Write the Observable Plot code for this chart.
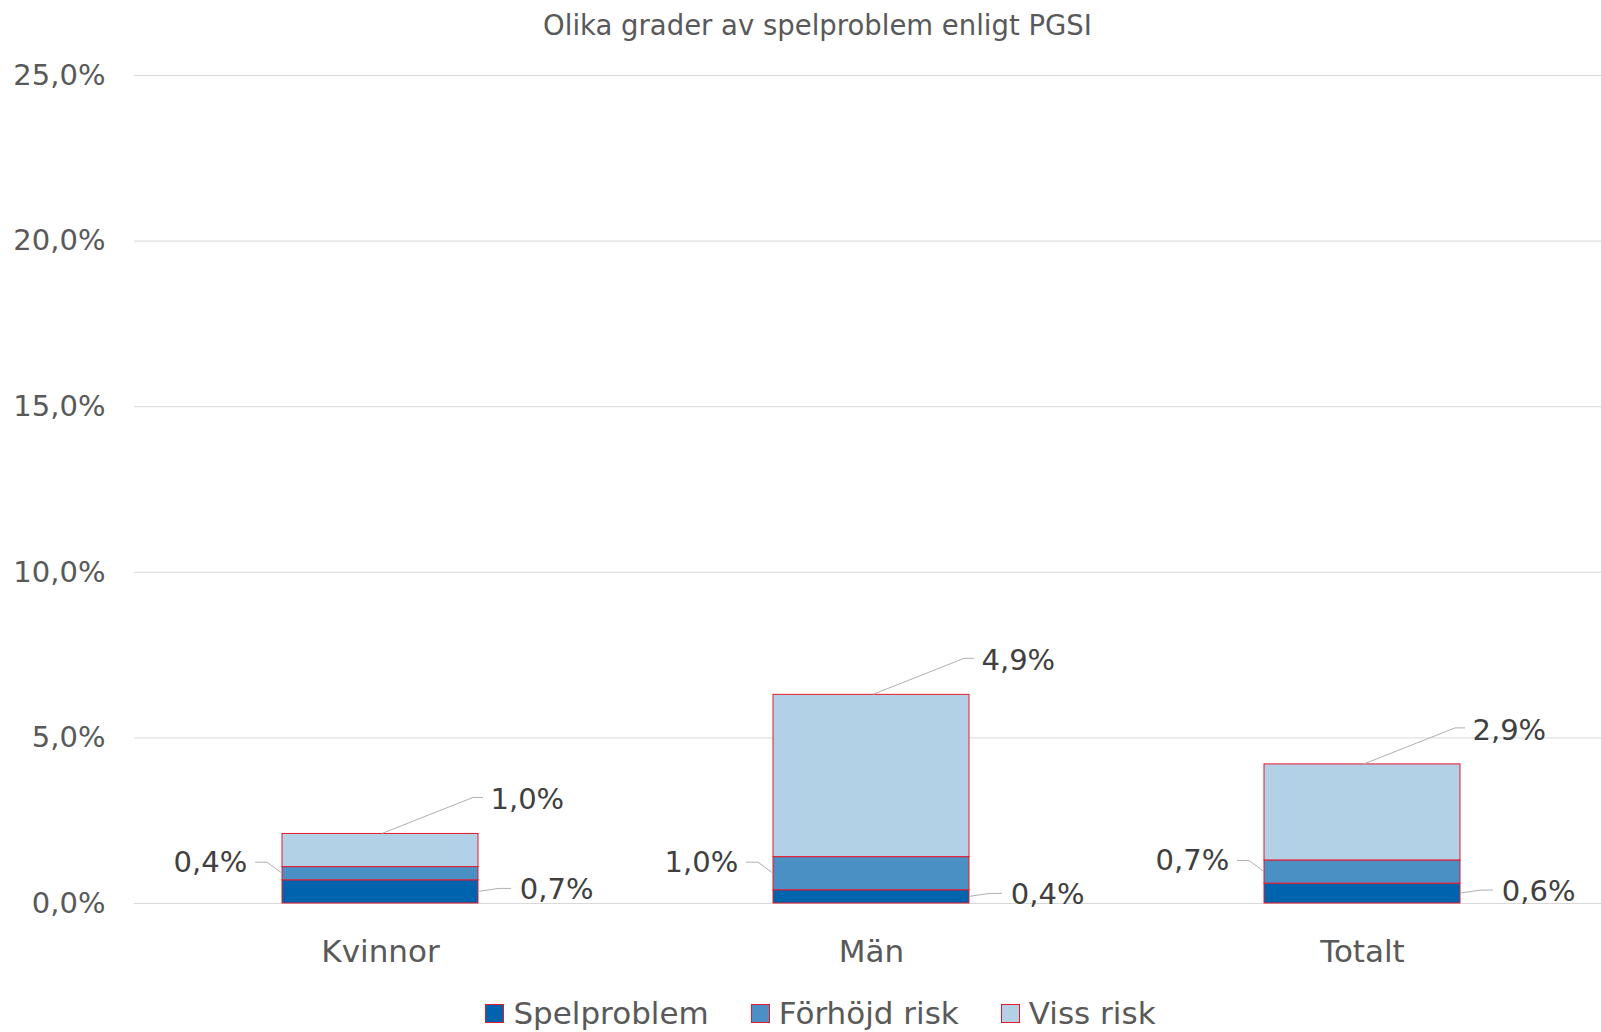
<!DOCTYPE html>
<html><head><meta charset="utf-8">
<script src="https://cdn.jsdelivr.net/npm/d3@7"></script>
<script src="https://cdn.jsdelivr.net/npm/@observablehq/plot@0.6"></script>
<style>
body{margin:0;background:#fff;font-family:"DejaVu Sans",Verdana,sans-serif;width:1601px;overflow:hidden}
#title{height:50px;line-height:50px;text-align:center;font-size:27.5px;color:#595959;padding-left:34px;box-sizing:border-box;width:1601px}
#chart{width:1601px;height:930px;overflow:hidden}
#chart svg{display:block;max-width:none !important}
#legend{height:66px;width:1601px;display:flex;justify-content:center;align-items:center;padding-left:40px;box-sizing:border-box;font-size:31px;color:#595959}
.item{display:flex;align-items:center;margin:0 21px}
.sw{width:17px;height:17px;border:1px solid #E8192C;margin-right:9px}
</style></head><body>
<div id="title">Olika grader av spelproblem enligt PGSI</div>
<div id="chart"></div>
<div id="legend"></div>
<script>
const categories = ["Kvinnor", "Män", "Totalt"];
const series = ["Spelproblem", "Förhöjd risk", "Viss risk"];
const spelproblem = [0.7, 0.4, 0.6];
const forhojdRisk = [0.4, 1.0, 0.7];
const vissRisk = [1.0, 4.9, 2.9];
const yTicks = [0, 5, 10, 15, 20, 25];
const colors = ["#0063AE", "#4A90C4", "#B3D1E6"];
const barStroke = "#E8192C";

const values = [spelproblem, forhojdRisk, vissRisk];
const rows = [];
categories.forEach((c, i) => {
  let acc = 0;
  series.forEach((s, j) => {
    const v = values[j][i];
    rows.push({category: c, series: s, value: v, y1: acc, y2: acc + v, mid: acc + v / 2});
    acc += v;
  });
});
const fmt = v => v.toFixed(1).replace(".", ",") + "%";

const W = 1608, H = 930, mL = 134, mR = 0, mT = 25, mB = 77;
const pIn = 0.6, pOut = 0.3;
const step = (W - mL - mR) / (categories.length - pIn + 2 * pOut);
const halfBw = step * (1 - pIn) / 2;

const lblFont = 29;
const topDx = 110, topDy = -34;
const topRows = rows.filter(d => d.series === series[2]);
const midRows = rows.filter(d => d.series === series[1]);
const lowRows = rows.filter(d => d.series === series[0]);

const chart = Plot.plot({
  width: W, height: H,
  marginLeft: mL, marginRight: mR, marginTop: mT, marginBottom: mB,
  style: {fontFamily: "'DejaVu Sans', Verdana, sans-serif", background: "transparent", overflow: "visible", maxWidth: "none"},
  x: {domain: categories, paddingInner: pIn, paddingOuter: pOut, label: null},
  y: {domain: [0, 25], label: null},
  color: {domain: series, range: colors},
  marks: [
    Plot.gridY(yTicks, {stroke: "#d9d9d9", strokeOpacity: 1}),
    Plot.axisY(yTicks, {tickSize: 0, tickPadding: 29, fontSize: 29, fill: "#595959", tickFormat: fmt, label: null}),
    Plot.axisX({tickSize: 0, tickPadding: 36, fontSize: 31, fill: "#595959", label: null}),
    Plot.rectY(rows, {x: "category", y1: "y1", y2: "y2", fill: "series", stroke: barStroke, strokeWidth: 1}),
    Plot.text(topRows, {x: "category", y: "y2", text: d => fmt(d.value), textAnchor: "start", dx: topDx, dy: topDy, fontSize: lblFont, fill: "#404040"}),
    Plot.text(midRows, {x: "category", y: "mid", text: d => fmt(d.value), textAnchor: "end", dx: -(halfBw + 35), dy: -11, fontSize: lblFont, fill: "#404040"}),
    Plot.text(lowRows, {x: "category", y: "mid", text: d => fmt(d.value), textAnchor: "start", dx: halfBw + 41, dy: -2, fontSize: lblFont, fill: "#404040"})
  ]
});
chart.style.maxWidth = "none";
chart.style.height = H + "px";
document.getElementById("chart").append(chart);

// leader lines, placed with the chart's own scales
const xs = chart.scale("x"), ys = chart.scale("y");
const bw = xs.bandwidth;
const g = d3.select(chart).append("g").attr("fill", "none").attr("stroke", "#b0b0b0").attr("stroke-width", 1);
const cx = c => xs.apply(c) + bw / 2;
topRows.forEach(d => {
  const x0 = cx(d.category) + 2, y0 = ys.apply(d.y2);
  const tx = cx(d.category) + topDx, ty = y0 + topDy - 2;
  g.append("path").attr("d", `M${x0},${y0}L${tx - 17},${ty}L${tx - 7},${ty}`);
});
midRows.forEach(d => {
  const bl = xs.apply(d.category), ym = ys.apply(d.mid);
  const ty = ym - 11;
  g.append("path").attr("d", `M${bl - 27},${ty}L${bl - 15},${ty}L${bl},${ym}`);
});
lowRows.forEach(d => {
  const br = xs.apply(d.category) + bw, ym = ys.apply(d.mid);
  const ty = ym - 3;
  g.append("path").attr("d", `M${br},${ym}L${br + 21},${ty}L${br + 33},${ty}`);
});

// legend
const leg = d3.select("#legend");
series.forEach((s, i) => {
  const it = leg.append("div").attr("class", "item");
  it.append("div").attr("class", "sw").style("background", colors[i]);
  it.append("span").text(s);
});
</script>
</body></html>
